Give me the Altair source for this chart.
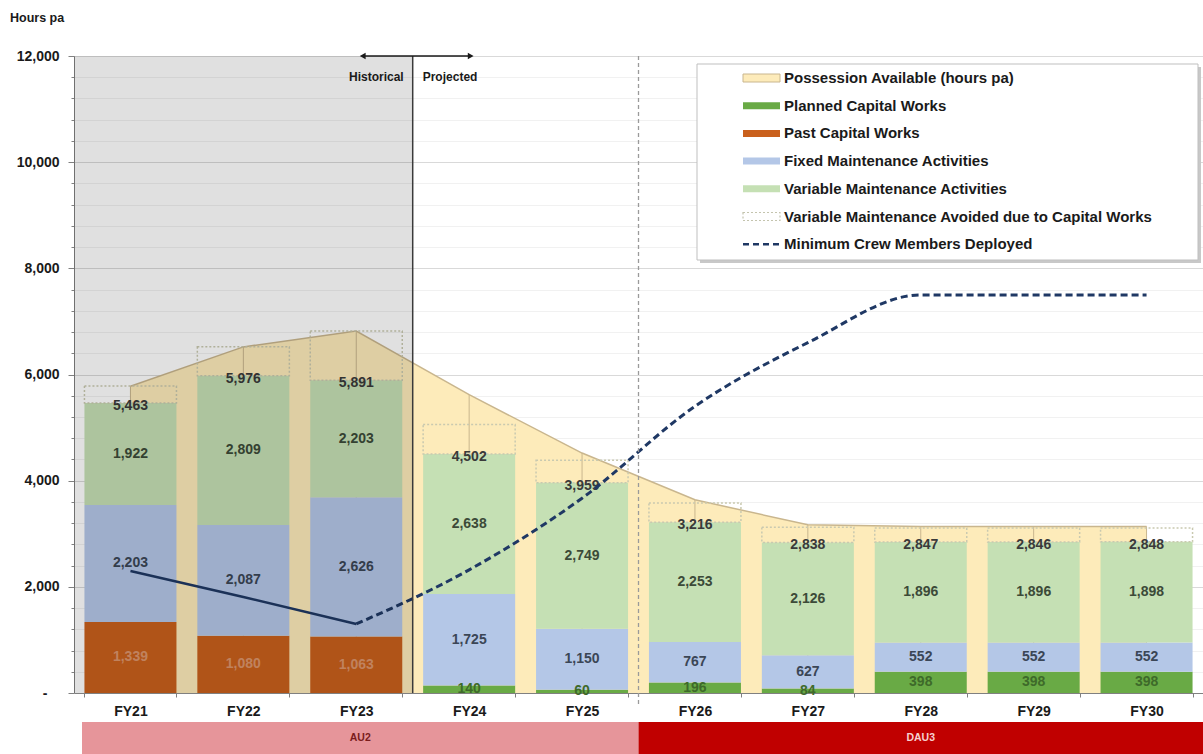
import altair as alt
import pandas as pd

# ---------------- data ----------------
FY = ["FY21", "FY22", "FY23", "FY24", "FY25", "FY26", "FY27", "FY28", "FY29", "FY30"]
past_capital = [1339, 1080, 1063, 0, 0, 0, 0, 0, 0, 0]
planned_capital = [0, 0, 0, 140, 60, 196, 84, 398, 398, 398]
fixed_maint = [2203, 2087, 2626, 1725, 1150, 767, 627, 552, 552, 552]
variable_maint = [1922, 2809, 2203, 2638, 2749, 2253, 2126, 1896, 1896, 1898]
totals = [5463, 5976, 5891, 4502, 3959, 3216, 2838, 2847, 2846, 2848]
avoided = [320, 545, 926, 553, 424, 361, 286, 260, 262, 262]
possession = [5780, 6520, 6820, 5620, 4520, 3640, 3168, 3137, 3137, 3137]
crew = [2300, 1810, 1300, 2320, 3670, 5400, 6600, 7500, 7500, 7500]
y_ticks = list(range(0, 12001, 400))
regimes = ["AU2", "DAU3"]
legend_labels = [
    "Possession Available (hours pa)",
    "Planned Capital Works",
    "Past Capital Works",
    "Fixed Maintenance Activities",
    "Variable Maintenance Activities",
    "Variable Maintenance Avoided due to Capital Works",
    "Minimum Crew Members Deployed",
]

# ---------------- styling ----------------
FONT = "Liberation Sans"
C_POSS = "#FDEBBA"
C_POSS_LINE = "#C9B68E"
C_PLAN = "#69AA45"
C_PAST = "#C9601C"
C_FIXED = "#B4C7E7"
C_VAR = "#C5E0B4"
C_CREW = "#1F3864"
W, H = 1129, 637
STEP = W / len(FY)

series_style = {
    "Past Capital Works": (past_capital, C_PAST, "#DB956C"),
    "Planned Capital Works": (planned_capital, C_PLAN, "#3E6A2A"),
    "Fixed Maintenance Activities": (fixed_maint, C_FIXED, "#3B4656"),
    "Variable Maintenance Activities": (variable_maint, C_VAR, "#3C4A38"),
}
order = ["Past Capital Works", "Planned Capital Works",
         "Fixed Maintenance Activities", "Variable Maintenance Activities"]

seg_rows, box_rows = [], []
for i, fy in enumerate(FY):
    base = 0
    for name in order:
        arr, fill, tcol = series_style[name]
        v = arr[i]
        if v:
            seg_rows.append(dict(fy=fy, series=name, lo=base, hi=base + v,
                                 mid=base + v / 2, val=v, fill=fill, tcol=tcol))
            base += v
    box_rows.append(dict(fy=fy, lo=base, hi=base + avoided[i]))
seg = pd.DataFrame(seg_rows)
boxes = pd.DataFrame(box_rows)
main = pd.DataFrame(dict(fy=FY, possession=possession, total=totals, crew=crew))
crew_hist = main.iloc[:3]
crew_proj = main.iloc[2:]

x_scale = alt.Scale(domain=FY, paddingInner=0.185, paddingOuter=0.0925)
y_scale = alt.Scale(domain=[0, 12000], nice=False, zero=True)

x_axis = alt.Axis(title=None, labelFont=FONT, labelFontSize=14, labelFontWeight="bold",
                  labelColor="#1a1a1a", tickBand="extent", tickSize=4, tickColor="#808080",
                  domainColor="#808080", labelPadding=7, grid=False, labelAngle=0)
y_axis = alt.Axis(
    title=None, values=y_ticks, labelOverlap=False,
    labelExpr="(datum.value % 2000 === 0 && datum.value > 0) ? format(datum.value, ',') : ''",
    labelFont=FONT, labelFontSize=14, labelFontWeight="bold", labelColor="#1a1a1a",
    labelPadding=9, tickColor="#808080", domainColor="#808080",
    tickSize={"condition": {"test": "datum.value % 2000 === 0", "value": 6}, "value": 3},
    gridColor={"condition": {"test": "datum.value % 2000 === 0", "value": "#D9D9D9"}, "value": "#F1F1F1"},
)

X = lambda: alt.X("fy:N", scale=x_scale, axis=x_axis, bandPosition=0.5)
Xb = lambda: alt.X("fy:N", scale=x_scale, axis=x_axis)

def Y(field):
    return alt.Y(field, scale=y_scale, axis=y_axis)

one = pd.DataFrame({"a": [0]})

def box(x, x2, y, y2, **kw):
    return alt.Chart(one).mark_rect(**kw).encode(
        x=alt.value(x), x2=alt.value(x2), y=alt.value(y), y2=alt.value(y2))

def rule(x, x2, y, y2, **kw):
    return alt.Chart(one).mark_rule(**kw).encode(
        x=alt.value(x), x2=alt.value(x2), y=alt.value(y), y2=alt.value(y2))

def label(x, y, text, **kw):
    kw.setdefault("font", FONT)
    kw.setdefault("fontWeight", "bold")
    return alt.Chart(one).mark_text(**kw).encode(
        x=alt.value(x), y=alt.value(y), text=alt.value(text))

# ---------------- data layers ----------------
area = alt.Chart(main).mark_area(color=C_POSS).encode(x=X(), y=Y("possession:Q"))
area_line = alt.Chart(main).mark_line(color=C_POSS_LINE, strokeWidth=1.5).encode(
    x=X(), y=Y("possession:Q"))
drop = alt.Chart(main).mark_rule(color=C_POSS_LINE, strokeWidth=1).encode(
    x=X(), y=Y("possession:Q"), y2=alt.datum(0))

bars = alt.Chart(seg).mark_bar().encode(
    x=Xb(), y=Y("lo:Q"), y2="hi:Q", color=alt.Color("fill:N", scale=None))
dotted = alt.Chart(boxes).mark_bar(filled=False, stroke="#C9C9B0", strokeWidth=1.5,
                                   strokeDash=[2, 2]).encode(
    x=Xb(), y=Y("lo:Q"), y2="hi:Q")
seg_text = alt.Chart(seg).mark_text(font=FONT, fontSize=14, fontWeight="bold",
                                    baseline="middle").encode(
    x=X(), y=Y("mid:Q"), text=alt.Text("val:Q", format=","),
    color=alt.Color("tcol:N", scale=None))
tot_text = alt.Chart(main).mark_text(font=FONT, fontSize=14, fontWeight="bold",
                                     baseline="middle", dy=3, color="#3a3a3a").encode(
    x=X(), y=Y("total:Q"), text=alt.Text("total:Q", format=","))

crew_solid = alt.Chart(crew_hist).mark_line(color=C_CREW, strokeWidth=2.5).encode(
    x=X(), y=Y("crew:Q"))
crew_dash = alt.Chart(crew_proj).mark_line(color=C_CREW, strokeWidth=3, strokeDash=[7, 4],
                                           interpolate="monotone").encode(
    x=X(), y=Y("crew:Q"))

# ---------------- annotations ----------------
hist_x = 3 * STEP
reg_x = 5 * STEP
overlay = box(0, hist_x, 0, H, color="#000000", opacity=0.12)
vline = rule(hist_x, hist_x, 0, H, color="#3a3a3a", strokeWidth=1.5)
dline = rule(reg_x, reg_x, 0, H + 13, color="#9A9A9A", strokeWidth=1.3, strokeDash=[4, 3])
arrow = rule(hist_x - 48, hist_x + 56, 0, 0, color="#1a1a1a", strokeWidth=1.5)
arrow_l = alt.Chart(one).mark_point(shape="triangle-left", filled=True, size=45,
                                    color="#1a1a1a", opacity=1).encode(
    x=alt.value(hist_x - 50), y=alt.value(0))
arrow_r = alt.Chart(one).mark_point(shape="triangle-right", filled=True, size=45,
                                    color="#1a1a1a", opacity=1).encode(
    x=alt.value(hist_x + 58), y=alt.value(0))
t_hist = label(hist_x - 9, 21, "Historical", align="right", baseline="middle",
               fontSize=12, color="#1a1a1a")
t_proj = label(hist_x + 10, 21, "Projected", align="left", baseline="middle",
               fontSize=12, color="#1a1a1a")
t_units = label(-64, -38, "Hours pa", align="left", baseline="middle", fontSize=12.5,
                color="#1a1a1a")
t_zero = label(-29, H + 1, "-", align="center", baseline="middle", fontSize=14,
               color="#1a1a1a")

# bottom regime band
band_au2 = box(8, reg_x, 666, 698, color="#E6959A")
band_dau3 = box(reg_x, W, 666, 698, color="#C00000")
t_au2 = label((8 + reg_x) / 2, 682, regimes[0], baseline="middle", fontSize=10.5,
              color="#7A1C1C")
t_dau3 = label((reg_x + W) / 2, 682, regimes[1], baseline="middle", fontSize=10.5,
               color="#F6D0D0")

# ---------------- legend ----------------
LX0, LX1, LY0, LY1 = 623, 1124, 8, 204
leg = [box(LX0 + 3, LX1 + 3, LY0 + 3, LY1 + 3, color="#C8C8C8"),
       box(LX0, LX1, LY0, LY1, fill="#FFFFFF", stroke="#BFBFBF", strokeWidth=1)]
sx0, sx1 = 669, 706
row_y = [22 + 27.7 * k for k in range(len(legend_labels))]
sym_fill = [C_POSS, C_PLAN, C_PAST, C_FIXED, C_VAR]
for k, txt in enumerate(legend_labels):
    yy = row_y[k]
    if k == 0:
        leg.append(box(sx0, sx1, yy - 4, yy + 4, fill=C_POSS, stroke=C_POSS_LINE, strokeWidth=1))
    elif k < 5:
        leg.append(box(sx0, sx1, yy - 3.5, yy + 3.5, color=sym_fill[k]))
    elif k == 5:
        leg.append(box(sx0, sx1, yy - 4, yy + 4, fill="#FFFFFF", stroke="#C4C4AE",
                       strokeWidth=1.2, strokeDash=[2, 2]))
    else:
        leg.append(rule(sx0, sx1, yy, yy, color=C_CREW, strokeWidth=2.5, strokeDash=[6, 4]))
    leg.append(label(sx1 + 4, yy, txt, align="left", baseline="middle", fontSize=15,
                     color="#1a1a1a"))

chart = alt.layer(
    area, area_line, drop, bars, dotted, seg_text, tot_text, crew_solid, crew_dash,
    overlay, vline, dline, arrow, arrow_l, arrow_r, t_hist, t_proj, t_units, t_zero,
    band_au2, band_dau3, t_au2, t_dau3, *leg,
).properties(
    width=W, height=H,
    padding={"left": 74, "top": 56, "right": 0, "bottom": 61},
    autosize=alt.AutoSizeParams(type="none"),
    background="#FFFFFF",
).configure_view(strokeWidth=0)

chart.save("out.html", embed_options={"renderer": "svg", "actions": False})
